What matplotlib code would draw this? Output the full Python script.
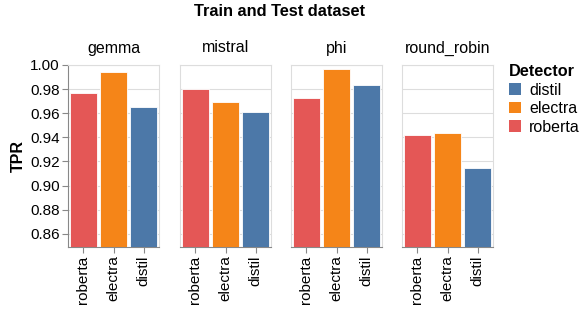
import matplotlib
matplotlib.use("Agg")
import matplotlib.pyplot as plt
from matplotlib.patches import Patch

plt.rcParams['font.family'] = ['Liberation Sans', 'DejaVu Sans']

models = ["gemma", "mistral", "phi", "round_robin"]
detectors = ["roberta", "electra", "distil"]
tpr = {
    "gemma":       [0.9766, 0.9940, 0.9655],
    "mistral":     [0.9800, 0.9696, 0.9613],
    "phi":         [0.9724, 0.9964, 0.9834],
    "round_robin": [0.9417, 0.9439, 0.9149],
}
colors = {"distil": "#4c78a8", "electra": "#f58518", "roberta": "#e45756"}
yticks = [0.86, 0.88, 0.90, 0.92, 0.94, 0.96, 0.98, 1.00]

W, H = 582, 313
fig = plt.figure(figsize=(W / 100, H / 100), dpi=100)

lefts = [68, 180, 291, 402]
pw, top, bottom = 91, 65, 247
fs = 11
for i, (m, lx) in enumerate(zip(models, lefts)):
    ax = fig.add_axes([lx / W, 1 - bottom / H, pw / W, (bottom - top) / H])
    vals = tpr[m]
    ax.bar(range(3), vals, width=0.9, color=[colors[d] for d in detectors],
           edgecolor="white", linewidth=0.6, zorder=3)
    ax.set_xlim(-0.5, 2.5)
    ax.set_ylim(0.849, 1.0)
    ax.set_yticks(yticks)
    ax.grid(axis='y', color='#dddddd', linewidth=0.8, zorder=0)
    for s in ax.spines.values():
        s.set_color('#dddddd')
        s.set_linewidth(0.8)
    ax.spines['bottom'].set_color('#888888')
    ax.set_xticks(range(3))
    ax.set_xticklabels(detectors, rotation=90, fontsize=fs)
    ax.tick_params(axis='x', length=4, color='#888888', pad=2)
    if i == 0:
        ax.set_yticklabels([f"{v:.2f}" for v in yticks], fontsize=fs)
        ax.tick_params(axis='y', length=4, color='#888888', pad=2)
        ax.spines['left'].set_color('#888888')
        ax.set_ylabel("TPR", fontsize=11.5, fontweight='bold', labelpad=3)
    else:
        ax.tick_params(axis='y', length=0, labelleft=False)
    ax.set_title(m, fontsize=11.5, pad=9)

fig.text(279 / W, 1 - 12 / H, "Train and Test dataset", ha='center', va='center',
         fontsize=11.8, fontweight='bold')

handles = [Patch(facecolor=colors[d], edgecolor='none') for d in ["distil", "electra", "roberta"]]
leg = fig.legend(handles, ["distil", "electra", "roberta"], title="Detector",
                 loc='upper left', bbox_to_anchor=(509 / W, 1 - 64 / H), frameon=False,
                 fontsize=11.5, title_fontproperties={'weight': 'bold', 'size': 11.7},
                 handlelength=0.75, handleheight=0.75, handletextpad=0.5,
                 labelspacing=0.22, borderpad=0, borderaxespad=0)
leg._legend_box.align = "left"

fig.savefig("out.png", dpi=100)
